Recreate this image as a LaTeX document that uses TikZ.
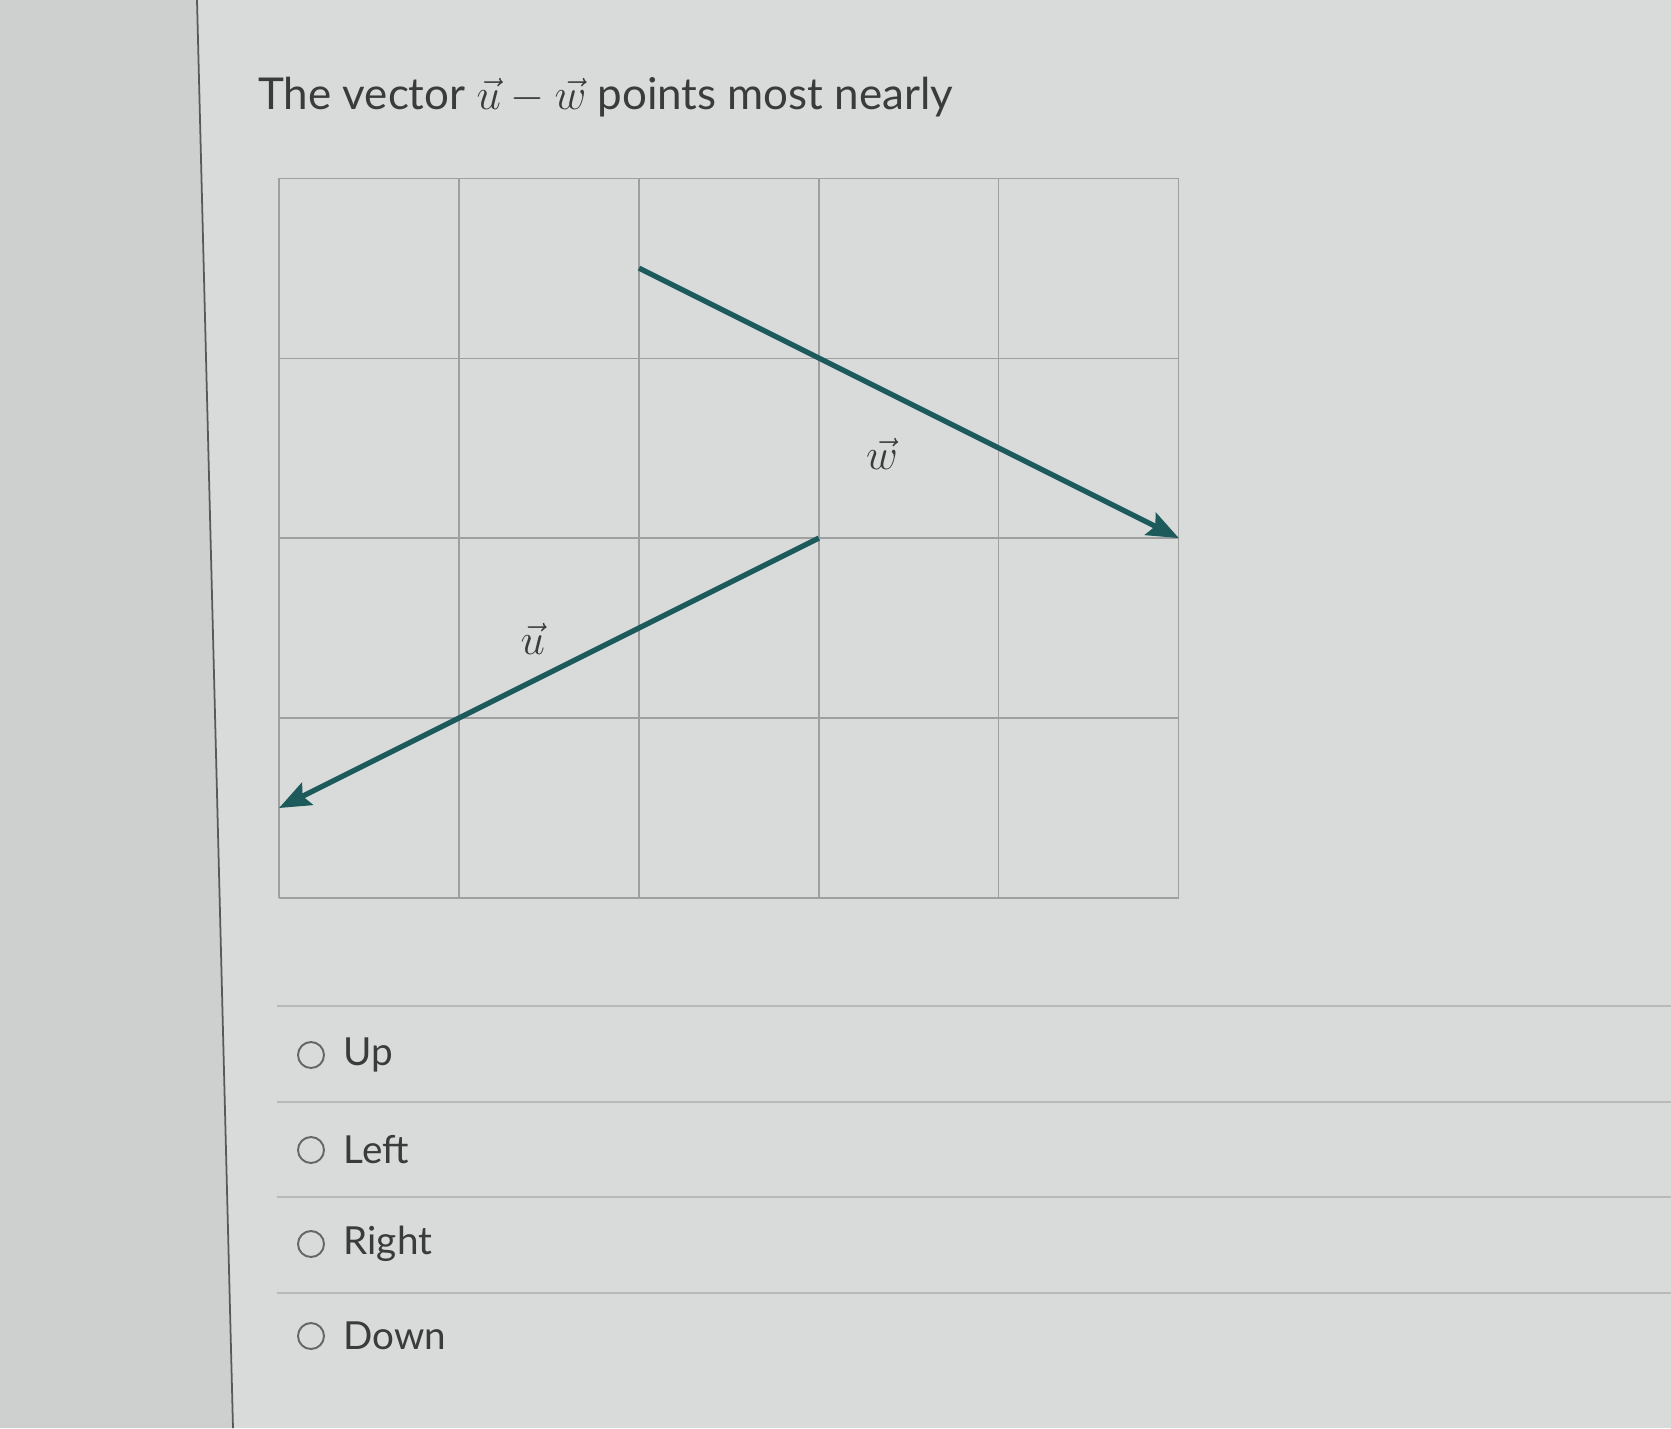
\documentclass[tikz,border=0pt]{standalone}
\usepackage{fontspec}
\setmainfont{Lato}
\usetikzlibrary{arrows.meta,positioning}
\definecolor{screen}{RGB}{216,219,217}
\definecolor{margin}{RGB}{205,208,207}
\definecolor{vecteal}{RGB}{28,90,92}
\definecolor{ink}{RGB}{58,60,60}
\tikzset{
  gridline/.style={draw=gray!75, line width=0.7pt},
  vector/.style={draw=vecteal, line width=3pt, -{Stealth[length=18pt,width=14pt,inset=3pt]}},
  veclabel/.style={text=ink, font=\fontsize{24}{28}\selectfont},
  radio/.style={draw=gray!80!black, line width=1.1pt, circle, minimum size=0.52cm, inner sep=0pt},
  choice/.style={anchor=west, text=ink, font=\fontsize{22}{26}\selectfont},
  sepline/.style={draw=gray!55, line width=0.8pt}
}
\begin{document}
\begin{tikzpicture}[x=0.02cm, y=-0.02cm]
  \useasboundingbox (0,0) rectangle (1671,1428);
  \fill[screen] (0,0) rectangle (1671,1428);
  \fill[margin] (0,0) -- (197,0) -- (233,1428) -- (0,1428) -- cycle;
  \draw[gray!70!black, line width=1pt] (197,0) -- (233,1428);
  \node[anchor=west, text=ink, font=\fontsize{25}{30}\selectfont] (title) at (252,97)
    {The vector $\vec{u}-\vec{w}$ points most nearly};
  % the grid, one unit per cell
  \begin{scope}[shift={(279,898)}, x=3.6cm, y=3.6cm]
    \draw[gridline, step=3.6cm] (0,0) grid (5,4);
    \coordinate (wtail) at (2,3.5);
    \coordinate (whead) at (5,2);
    \coordinate (utail) at (3,2);
    \coordinate (uhead) at (0,0.5);
    \draw[vector] (wtail) -- (whead);
    \draw[vector] (utail) -- (uhead);
    \node[veclabel] (wlabel) at (3.35,2.47) {$\vec{w}$};
    \node[veclabel] (ulabel) at (1.41,1.44) {$\vec{u}$};
  \end{scope}
  % answer choices
  \draw[sepline] (277,1006) -- (1671,1006);
  \foreach \y in {1102,1197,1293}
    \draw[sepline] (277,\y) -- (1671,\y);
  \foreach \t/\y [count=\i] in {Up/1055, Left/1150, Right/1244, Down/1336} {
    \node[radio] (radio\i) at (311,\y) {};
    \node[choice, right=0.25cm of radio\i] (choice\i) {\t};
  }
\end{tikzpicture}
\end{document}
